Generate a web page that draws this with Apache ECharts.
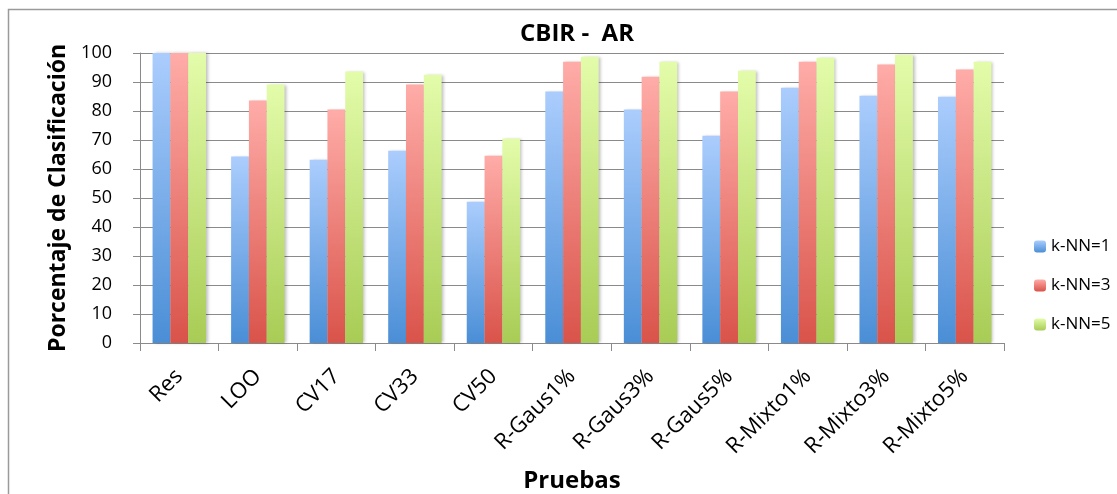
<!DOCTYPE html>
<html>
<head>
<meta charset="utf-8">
<script src="https://cdn.jsdelivr.net/npm/echarts@6/dist/echarts.min.js"></script>
<style>
  html, body { margin: 0; padding: 0; background: #fff; }
  #chart { width: 1117px; height: 494px; }
</style>
</head>
<body>
<div id="chart"></div>
<script>
// Test cases on the x axis
const categories = ['Res', 'LOO', 'CV17', 'CV33', 'CV50', 'R-Gaus1%', 'R-Gaus3%', 'R-Gaus5%', 'R-Mixto1%', 'R-Mixto3%', 'R-Mixto5%'];
// Classification percentage per k-NN setting
const knn1 = [100, 64.3, 63.2, 66.3, 48.7, 86.7, 80.5, 71.5, 88.0, 85.3, 84.9];
const knn3 = [100, 83.6, 80.5, 89.1, 64.6, 97.0, 91.8, 86.7, 97.0, 96.0, 94.3];
const knn5 = [100, 89.1, 93.6, 92.5, 70.5, 98.7, 97.0, 93.9, 98.4, 99.4, 97.0];
const seriesNames = ['k-NN=1', 'k-NN=3', 'k-NN=5'];

const FONT = '"Open Sans", "Liberation Sans", sans-serif';

function grad(top, bottom) {
  return new echarts.graphic.LinearGradient(0, 0, 0, 1, [
    { offset: 0, color: top },
    { offset: 1, color: bottom }
  ]);
}

const palette = [
  grad('#abcdfd', '#4a8ed6'),
  grad('#ffaca8', '#d9534a'),
  grad('#e3fcaa', '#a8cc55')
];

function bar(name, data, color) {
  return {
    name: name,
    type: 'bar',
    data: data,
    barGap: '0%',
    barCategoryGap: '32%',
    itemStyle: {
      color: color,
      shadowColor: 'rgba(0,0,0,0.25)',
      shadowBlur: 3,
      shadowOffsetX: 2,
      shadowOffsetY: 0
    }
  };
}

const chart = echarts.init(document.getElementById('chart'), null, { renderer: 'canvas' });
chart.setOption({
  animation: false,
  backgroundColor: '#fff',
  textStyle: { fontFamily: FONT },
  title: {
    text: 'CBIR -  AR',
    left: 572,
    textAlign: 'center',
    top: 17,
    textStyle: { fontFamily: FONT, fontSize: 24, fontWeight: 'bold', color: '#000' }
  },
  legend: {
    orient: 'vertical',
    left: 1029,
    top: 233,
    itemWidth: 12,
    itemHeight: 12,
    itemGap: 22,
    textStyle: { fontFamily: FONT, fontSize: 17, color: '#000' },
    data: seriesNames
  },
  grid: { left: 140, right: 113, top: 53, bottom: 151, containLabel: false, outerBoundsMode: 'none' },
  xAxis: {
    type: 'category',
    data: categories,
    name: 'Pruebas',
    nameLocation: 'middle',
    nameGap: 126,
    nameTextStyle: { fontFamily: FONT, fontSize: 24, fontWeight: 'bold', color: '#000' },
    axisLine: { lineStyle: { color: '#8a8a8a', width: 1 } },
    axisTick: { show: true, length: 8, alignWithLabel: false, lineStyle: { color: '#8a8a8a' } },
    axisLabel: { rotate: 45, fontSize: 22, color: '#000', margin: 30, interval: 0 }
  },
  yAxis: {
    type: 'value',
    min: 0,
    max: 100,
    interval: 10,
    name: 'Porcentaje de Clasificación',
    nameLocation: 'middle',
    nameGap: 64,
    nameTextStyle: { fontFamily: FONT, fontSize: 23, fontWeight: 'bold', color: '#000' },
    axisLine: { show: true, lineStyle: { color: '#8a8a8a' } },
    axisTick: { show: true, length: 7, lineStyle: { color: '#8a8a8a' } },
    axisLabel: { fontSize: 18, color: '#000', margin: 28 },
    splitLine: { lineStyle: { color: '#8a8a8a', width: 1 } }
  },
  series: [
    bar(seriesNames[0], knn1, palette[0]),
    bar(seriesNames[1], knn3, palette[1]),
    bar(seriesNames[2], knn5, palette[2])
  ],
  graphic: [{
    type: 'rect',
    shape: { x: 8.5, y: 9.5, width: 1115, height: 495 },
    style: { fill: 'none', stroke: '#9a9a9a', lineWidth: 1.5 },
    silent: true
  }]
});
</script>
</body>
</html>
